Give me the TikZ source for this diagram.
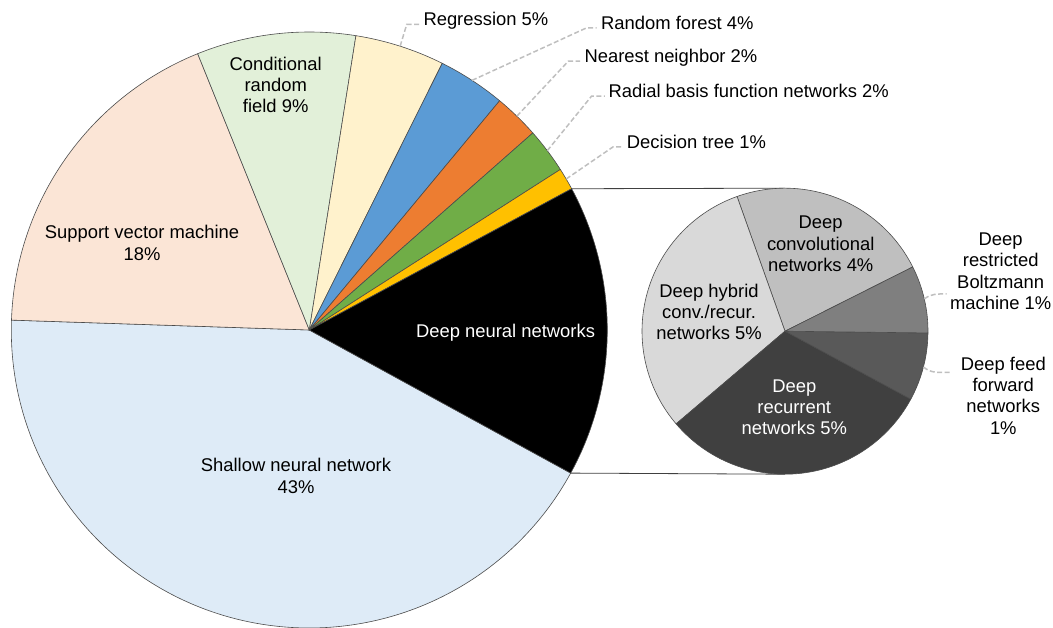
\documentclass[tikz,border=0pt]{standalone}
\usepackage{fontspec}
\setmainfont{Liberation Sans}
\definecolor{cShallow}{HTML}{DEEBF7}
\definecolor{cSVM}{HTML}{FBE5D6}
\definecolor{cCRF}{HTML}{E2F0D9}
\definecolor{cReg}{HTML}{FFF2CC}
\definecolor{cRF}{HTML}{5B9BD5}
\definecolor{cNN}{HTML}{ED7D31}
\definecolor{cRBF}{HTML}{70AD47}
\definecolor{cDT}{HTML}{FFC000}
\definecolor{cConv}{HTML}{BFBFBF}
\definecolor{cHyb}{HTML}{D9D9D9}
\definecolor{cRec}{HTML}{404040}
\definecolor{cFF}{HTML}{595959}
\definecolor{cRBM}{HTML}{7F7F7F}
\definecolor{cLead}{HTML}{BFBFBF}
\newcommand{\pieslice}[5]{\filldraw[slice, fill=#5] (#1) -- ++(#3:#2) arc[start angle=#3, end angle=#4, radius=#2] -- cycle;}
\begin{document}
\begin{tikzpicture}[x=1pt,y=1pt,
  slice/.style={draw=black!70, line width=0.6pt, line join=round},
  lbl/.style={font=\fontsize{18.4}{21.2}\selectfont, align=center, inner sep=0pt, text=black},
  olbl/.style={font=\fontsize{18.4}{21.2}\selectfont, inner sep=0pt, anchor=base west, text=black},
  leader/.style={draw=cLead, line width=1.5pt, dash pattern=on 5pt off 2.5pt},
  zoomline/.style={draw=black!75, line width=0.8pt}]
\useasboundingbox (0,0) rectangle (1053,627);
\coordinate (M) at (309.3,297);
\coordinate (S) at (785,295.8);
% main pie
\pieslice{M}{298}{178.1}{331.3}{cShallow}
\pieslice{M}{298}{112}{178.1}{cSVM}
\pieslice{M}{298}{81}{112}{cCRF}
\pieslice{M}{298}{63.5}{81}{cReg}
\pieslice{M}{298}{50.3}{63.5}{cRF}
\pieslice{M}{298}{41.4}{50.3}{cNN}
\pieslice{M}{298}{32.6}{41.4}{cRBF}
\pieslice{M}{298}{28.3}{32.6}{cDT}
\pieslice{M}{298}{-28.7}{28.3}{black}
% zoom connectors
\coordinate (dnnTop) at ([shift={(28.3:298)}]M);
\coordinate (dnnBot) at ([shift={(-28.7:298)}]M);
\coordinate (sTop) at ([shift={(90:143)}]S);
\coordinate (sBot) at ([shift={(-90:143)}]S);
\draw[zoomline] (dnnTop) -- (sTop);
\draw[zoomline] (dnnBot) -- (sBot);
% small pie
\pieslice{S}{143}{26.7}{109.6}{cConv}
\pieslice{S}{143}{109.6}{220.4}{cHyb}
\pieslice{S}{143}{220.4}{331.6}{cRec}
\pieslice{S}{143}{331.6}{359.3}{cFF}
\pieslice{S}{143}{-0.7}{26.7}{cRBM}
% inner labels
\node[lbl] (crfL) at (275.7,542) {Conditional\\random\\field 9\%};
\node[lbl] (svmL) at (142,384) {Support vector machine\\18\%};
\node[lbl] (shL) at (296,151) {Shallow neural network\\43\%};
\node[lbl, text=white] (dnnL) at (505.5,294) {Deep neural networks};
\node[lbl] (convL) at (820.7,383.2) {Deep\\convolutional\\networks 4\%};
\node[lbl] (hybL) at (709,315.3) {Deep hybrid\\conv./recur.\\networks 5\%};
\node[lbl, text=white] (recL) at (794.3,219.8) {Deep\\recurrent\\networks 5\%};
\node[lbl] (rbmL) at (1000.7,355.8) {Deep\\restricted\\Boltzmann\\machine 1\%};
\node[lbl] (ffL) at (1003.3,231.4) {Deep feed\\forward\\networks\\1\%};
% outer labels
\node[olbl] (regL) at (423.3,601) {Regression 5\%};
\node[olbl] (rfL) at (601,597.7) {Random forest 4\%};
\node[olbl] (nnL) at (584.3,564.3) {Nearest neighbor 2\%};
\node[olbl] (rbfL) at (608.3,529.3) {Radial basis function networks 2\%};
\node[olbl] (dtL) at (626.7,478.7) {Decision tree 1\%};
% leaders
\coordinate (regA) at ([shift={(72.25:298)}]M);
\coordinate (regE) at ([shift={(-4,1.5)}]regL.base west);
\draw[leader] (regA) -- ([shift={(-12.6,0)}]regE) -- (regE);
\coordinate (rfA) at ([shift={(56.9:298)}]M);
\coordinate (rfE) at ([shift={(-4.3,1.5)}]rfL.base west);
\draw[leader] (rfA) -- ([shift={(-10,0)}]rfE) -- (rfE);
\coordinate (nnA) at ([shift={(45.85:298)}]M);
\coordinate (nnE) at ([shift={(-4.3,1.5)}]nnL.base west);
\draw[leader] (nnA) -- ([shift={(-11.7,0)}]nnE) -- (nnE);
\coordinate (rbfA) at ([shift={(37:298)}]M);
\coordinate (rbfE) at ([shift={(-3.5,1.5)}]rbfL.base west);
\draw[leader] (rbfA) -- ([shift={(-13.3,0)}]rbfE) -- (rbfE);
\coordinate (dtA) at ([shift={(30.45:298)}]M);
\coordinate (dtE) at ([shift={(-3.5,1.5)}]dtL.base west);
\draw[leader] (dtA) -- ([shift={(-10,0)}]dtE) -- (dtE);
\coordinate (rbmA) at ([shift={(13:143)}]S);
\coordinate (rbmB) at (946.7,333);
\draw[leader] (rbmA) to[out=40,in=180] (rbmB);
\coordinate (ffA) at ([shift={(-14.5:143)}]S);
\coordinate (ffB) at (950,254.7);
\draw[leader] (ffA) to[out=-40,in=180] (ffB);
\end{tikzpicture}
\end{document}
